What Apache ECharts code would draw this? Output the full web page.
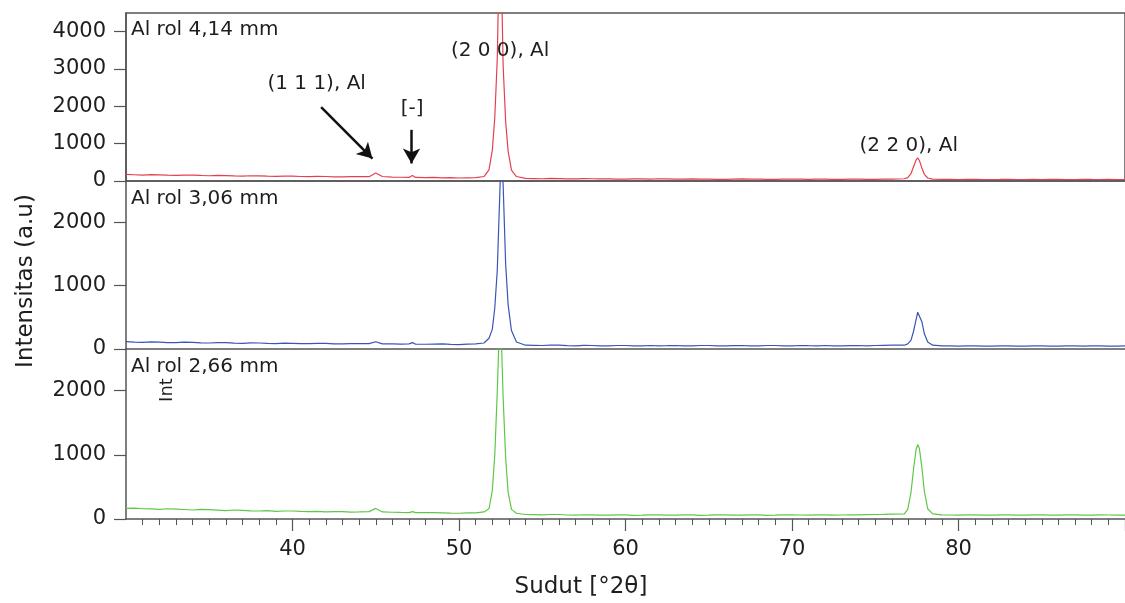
<!DOCTYPE html>
<html>
<head>
<meta charset="utf-8">
<script src="https://cdn.jsdelivr.net/npm/echarts@6/dist/echarts.min.js"></script>
<style>
  html, body { margin: 0; padding: 0; background: #fff; }
  #chart { width: 1125px; height: 603px; }
</style>
</head>
<body>
<div id="chart"></div>
<script>
// Diffraction angle (°2θ), shared by the three patterns
const angle = [
  30,30.5,31,31.5,32,32.5,33,33.5,34,34.5,35,35.5,36,36.5,37,37.5,38,38.5,39,39.5,40,40.5,41,41.5,42,42.5,43,43.5,44,
  44.6,45,45.4,
  46,46.5,
  47,47.2,47.4,
  48,48.5,49,49.5,50,50.5,51,
  51.5,51.8,52.0,52.15,52.3,52.4,52.47,52.55,52.65,52.8,52.95,53.15,53.45,
  54,54.5,55,55.5,56,56.5,57,57.5,58,58.5,59,59.5,60,60.5,61,61.5,62,62.5,63,63.5,64,64.5,65,65.5,
  66,66.5,67,67.5,68,68.5,69,69.5,70,70.5,71,71.5,72,72.5,73,73.5,74,74.5,75,75.5,76,
  76.75,76.95,77.15,77.3,77.45,77.55,77.65,77.8,77.95,78.15,78.45,
  79,79.5,80,80.5,81,81.5,82,82.5,83,83.5,84,84.5,85,85.5,86,86.5,87,87.5,88,88.5,89,89.5,90
];

// Intensity (a.u) for each rolled thickness
const rol414 = [
  175,168,160,170,165,155,150,160,155,148,140,150,145,135,130,140,135,128,125,132,130,120,115,125,120,112,110,118,115,
  115,215,120,
  105,100,
  95,150,95,
  90,95,85,88,80,85,90,
  120,300,820,1700,3300,5700,6500,5500,3100,1600,800,290,120,
  70,65,60,68,65,58,55,62,60,55,55,50,50,58,55,52,60,55,50,48,55,52,50,45,
  45,52,55,50,50,45,45,52,50,48,45,50,50,45,45,50,48,45,45,50,50,
  60,90,200,380,560,620,550,350,180,80,50,
  45,42,40,45,45,40,40,42,45,40,40,45,40,42,45,40,40,45,42,40,45,40,40
];
const rol306 = [
  115,108,105,112,110,102,100,108,105,98,95,102,100,92,90,98,95,88,85,92,90,85,85,90,90,82,80,86,85,
  85,115,80,
  80,78,
  80,100,75,
  75,78,80,74,70,76,80,
  95,170,310,650,1250,2050,2600,3100,2600,1350,700,290,110,
  60,58,55,60,60,52,50,56,55,50,50,55,55,48,50,55,50,52,55,50,50,55,55,48,
  50,54,55,50,50,55,55,48,50,55,52,50,55,50,50,54,55,50,55,58,60,
  60,80,140,280,460,580,590,430,240,110,60,
  50,48,45,50,50,45,45,48,50,45,45,50,50,46,45,50,48,45,50,50,45,45,48
];
const rol266 = [
  165,170,160,158,150,160,155,148,140,150,145,138,130,140,135,128,125,130,120,125,125,118,115,120,110,115,115,108,110,
  115,165,110,
  105,102,
  100,115,100,
  100,98,95,92,90,94,95,
  110,160,440,1000,2000,2800,3200,2750,1900,960,420,150,90,
  70,68,65,70,70,62,60,66,65,60,60,65,65,58,60,64,65,60,60,65,65,58,60,64,
  65,60,60,65,65,58,60,64,65,62,60,65,65,60,62,66,65,68,70,72,75,
  80,150,420,780,1080,1160,1100,800,430,160,80,
  65,62,60,65,65,60,60,63,65,60,60,65,65,60,60,64,65,60,60,65,62,60,60
];

const panelNames = ['Al rol 4,14 mm', 'Al rol 3,06 mm', 'Al rol 2,66 mm'];
const yTicksTop = [0, 1000, 2000, 3000, 4000];
const yTicksLow = [0, 1000, 2000];
const xTicks = [40, 50, 60, 70, 80];
const xMajorTicks = [40, 50, 60, 70, 80, 90];

// Peak labels and arrows on the top pattern, in data units [angle, intensity]
const peakLabels = [
  { name: '(1 1 1), Al', coord: [41.45, 2600] },
  { name: '[-]',         coord: [47.19, 1930] },
  { name: '(2 0 0), Al', coord: [52.47, 3480] },
  { name: '(2 2 0), Al', coord: [77.01, 950] }
];
const peakArrows = [
  [[41.72, 1980], [44.8, 600]],
  [[47.15, 1370], [47.15, 470]]
];

const FONT = 'DejaVu Sans';
const AXIS = '#555';
const TEXT = '#1e1e1e';

const chart = echarts.init(document.getElementById('chart'), null, { renderer: 'canvas' });

const grids = [
  { left: 126, right: -4, top: 13, height: 168, show: true, borderColor: AXIS, borderWidth: 1.5 },
  { left: 126, right: -4, top: 181, height: 168 },
  { left: 126, right: -4, top: 349, height: 170 }
];

const plain = v => String(v);

function xAxisFor(i) {
  const bottom = i === 2;
  return {
    type: 'value', gridIndex: i, min: 30, max: 90, interval: 10,
    axisLine: { show: true, onZero: false, lineStyle: { color: AXIS, width: 1.5 } },
    axisTick: { show: bottom, customValues: xMajorTicks, length: 12, lineStyle: { color: AXIS, width: 1.2 } },
    minorTick: { show: bottom, splitNumber: 10, length: 6, lineStyle: { color: AXIS, width: 1 } },
    axisLabel: bottom
      ? { show: true, customValues: xTicks, formatter: plain, fontFamily: FONT, fontSize: 21, color: TEXT, margin: 20 }
      : { show: false },
    splitLine: { show: false }
  };
}

function yAxisFor(i, max, ticks) {
  return {
    type: 'value', gridIndex: i, min: 0, max: max,
    axisLine: { show: true, lineStyle: { color: AXIS, width: 1.5 } },
    axisTick: { show: true, customValues: ticks, length: 12, lineStyle: { color: AXIS, width: 1.2 } },
    axisLabel: { show: true, customValues: ticks, formatter: plain, fontFamily: FONT, fontSize: 21, color: TEXT, margin: 20 },
    splitLine: { show: false }
  };
}

function lineSeries(i, values, color) {
  return {
    type: 'line', xAxisIndex: i, yAxisIndex: i,
    data: angle.map((a, k) => [a, values[k]]),
    showSymbol: false, symbol: 'none', clip: true,
    lineStyle: { color: color, width: 1.2 },
    itemStyle: { color: color },
    silent: true
  };
}

const topSeries = lineSeries(0, rol414, '#e4414f');
topSeries.markPoint = {
  silent: true,
  symbol: 'circle', symbolSize: 1,
  itemStyle: { color: 'rgba(0,0,0,0)' },
  label: { show: true, position: 'inside', formatter: '{b}', fontFamily: FONT, fontSize: 20, color: TEXT },
  data: peakLabels.map(p => ({ name: p.name, coord: p.coord }))
};
topSeries.markLine = {
  silent: true,
  symbol: ['none', 'arrow'], symbolSize: [13, 15],
  lineStyle: { color: '#111', width: 2.5, type: 'solid' },
  label: { show: false },
  data: peakArrows.map(a => [{ coord: a[0] }, { coord: a[1] }])
};

const option = {
  animation: false,
  backgroundColor: '#fff',
  grid: grids,
  xAxis: [0, 1, 2].map(xAxisFor),
  yAxis: [
    yAxisFor(0, 4500, yTicksTop),
    yAxisFor(1, 2650, yTicksLow),
    yAxisFor(2, 2650, yTicksLow)
  ],
  series: [
    topSeries,
    lineSeries(1, rol306, '#3a55b5'),
    lineSeries(2, rol266, '#5fc746')
  ],
  graphic: [
    { type: 'text', left: 131, top: 20, style: { text: panelNames[0], font: '20px "' + FONT + '"', fill: TEXT } },
    { type: 'text', left: 131, top: 189, style: { text: panelNames[1], font: '20px "' + FONT + '"', fill: TEXT } },
    { type: 'text', left: 131, top: 357, style: { text: panelNames[2], font: '20px "' + FONT + '"', fill: TEXT } },
    { type: 'text', x: 167, y: 390, rotation: Math.PI / 2,
      style: { text: 'Int', font: '18px "' + FONT + '"', fill: TEXT, align: 'center', verticalAlign: 'middle' } },
    { type: 'text', x: 26, y: 281, rotation: Math.PI / 2,
      style: { text: 'Intensitas (a.u)', font: '23px "' + FONT + '"', fill: TEXT, align: 'center', verticalAlign: 'middle' } },
    { type: 'text', x: 581, y: 587,
      style: { text: 'Sudut [°2θ]', font: '23px "' + FONT + '"', fill: TEXT, align: 'center', verticalAlign: 'middle' } }
  ]
};

chart.setOption(option);
</script>
</body>
</html>
